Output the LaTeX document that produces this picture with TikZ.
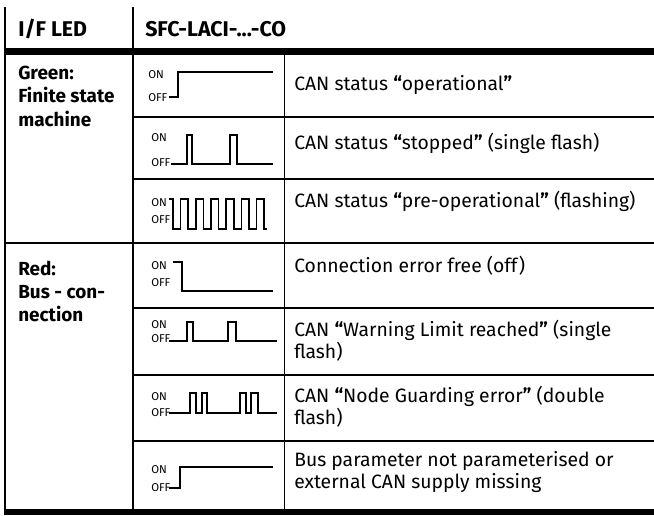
\documentclass[tikz,border=0pt]{standalone}
\usepackage{fontspec}
\setmainfont{Fira Sans}
\newcommand{\myoq}{\textbf{“}}
\newcommand{\mycq}{\textbf{”}}
\begin{document}
\begin{tikzpicture}[x=0.75pt,y=-0.75pt,
  thin line/.style={line width=1.1pt},
  thick rule/.style={fill=black},
  wave/.style={line width=1.1pt, line join=miter},
  lbl/.style={font=\fontsize{8.5pt}{9pt}\selectfont, inner sep=0pt, anchor=west},
  bodytext/.style={font=\fontsize{14.5pt}{16.5pt}\selectfont, inner sep=0pt, anchor=north west, align=left},
  grouptext/.style={font=\bfseries\fontsize{14.2pt}{17.4pt}\selectfont, inner sep=0pt, anchor=north west, align=left},
  headtext/.style={font=\bfseries\fontsize{16pt}{18pt}\selectfont, inner sep=0pt, anchor=west}]
\useasboundingbox (0,0) rectangle (654,515);
% frame lines
\draw[thin line] (5,7) -- (5,515);
\draw[thin line] (133,7) -- (133,48);
\fill[thick rule] (4.5,48) rectangle (654,55);
\draw[thin line] (133,55) -- (133,509);
\draw[thin line] (284.5,55) -- (284.5,509);
\draw[thin line] (133,117) -- (654,117);
\draw[thin line] (133,179) -- (654,179);
\draw[thin line] (5,243) -- (654,243);
\draw[thin line] (133,308) -- (654,308);
\draw[thin line] (133,375) -- (654,375);
\draw[thin line] (133,441) -- (654,441);
\fill[thick rule] (4.5,509) rectangle (654,515);
% header
\node[headtext] (h1) at (18,29) {I/F LED};
\node[headtext] (h2) at (145,29) {SFC-LACI-...-CO};
% group labels
\node[grouptext] (g1) at (18,66) {Green:\\Finite state\\machine};
\node[grouptext] (g2) at (18,260.5) {Red:\\Bus - con-\\nection};
% descriptions
\node[bodytext] (d1) at (294,75.5) {CAN status \myoq operational\mycq};
\node[bodytext] (d2) at (294,132.5) {CAN status \myoq stopped\mycq{} (single flash)};
\node[bodytext] (d3) at (294,190.5) {CAN status \myoq pre-operational\mycq{} (flashing)};
\node[bodytext] (d4) at (294,255.5) {Connection error free (off)};
\node[bodytext] (d5) at (294,319.5) {CAN \myoq Warning Limit reached\mycq{} (single\\flash)};
\node[bodytext] (d6) at (294,385.5) {CAN \myoq Node Guarding error\mycq{} (double\\flash)};
\node[bodytext] (d7) at (294,451.5) {Bus parameter not parameterised or\\external CAN supply missing};
% row 1
\node[lbl] (on1) at (148,75) {ON};
\node[lbl] (off1) at (148,98) {OFF};
\draw[wave] (169,97) -- (178,97) -- (178,72) -- (273,72);
% row 2
\node[lbl] (on2) at (151,138) {ON};
\node[lbl] (off2) at (151,163) {OFF};
\draw[wave] (171,164) -- (187,164) -- (187,135) -- (192,135) -- (192,164) -- (230,164) -- (230,135) -- (237,135) -- (237,164) -- (273,164);
% row 3
\node[lbl] (on3) at (151,203) {ON};
\node[lbl] (off3) at (151,220) {OFF};
\draw[wave] (169,199) -- (173,199)
  \foreach \i in {0,...,5} { -- ++(0,30) -- ++(7.6,0) -- ++(0,-30) -- ++(7.6,0) }
  -- ++(0,30) -- ++(3,0);
% row 4
\node[lbl] (on4) at (151,266) {ON};
\node[lbl] (off4) at (151,283) {OFF};
\draw[wave] (173,262) -- (182,262) -- (182,291) -- (273,291);
% row 5
\node[lbl] (on5) at (151,325) {ON};
\node[lbl] (off5) at (151,339) {OFF};
\draw[wave] (169,341) -- (187,341) -- (187,322) -- (193,322) -- (193,341) -- (228,341) -- (228,322) -- (236,322) -- (236,341) -- (277,341);
% row 6
\node[lbl] (on6) at (151,397) {ON};
\node[lbl] (off6) at (151,413) {OFF};
\draw[wave] (169,413) -- (190,413) -- (190,393) -- (196,393) -- (196,413) -- (202,413) -- (202,393) -- (207,393) -- (207,413) -- (240,413) -- (240,393) -- (246,393) -- (246,413) -- (251,413) -- (251,393) -- (258,393) -- (258,413) -- (277,413);
% row 7
\node[lbl] (on7) at (151,470) {ON};
\node[lbl] (off7) at (151,488) {OFF};
\draw[wave] (169,488) -- (180,488) -- (180,467) -- (273,467);
\end{tikzpicture}
\end{document}
